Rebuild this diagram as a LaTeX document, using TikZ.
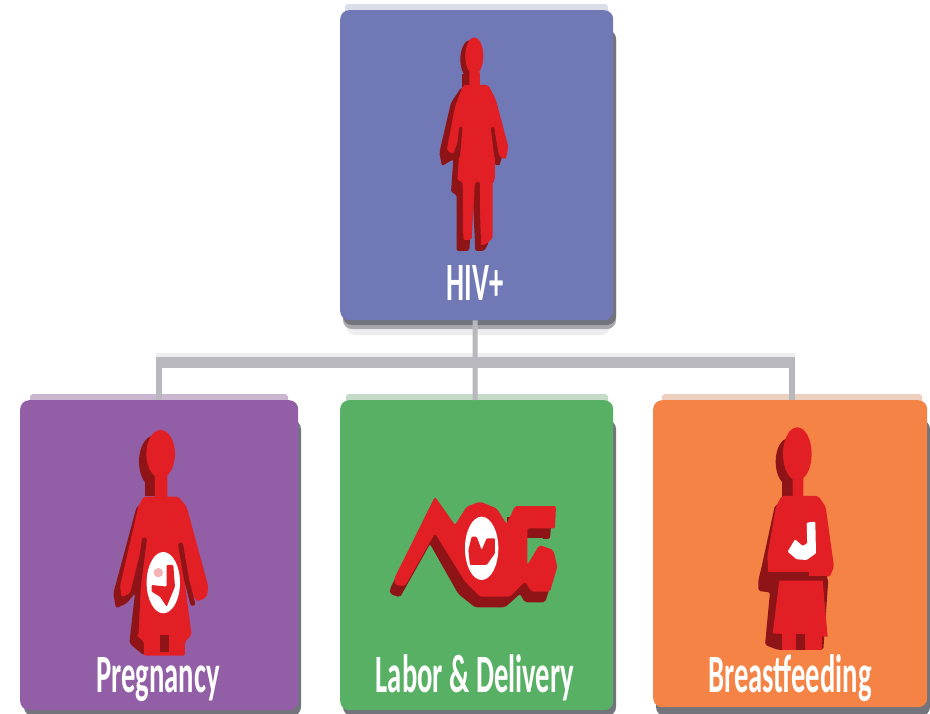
\documentclass[tikz,border=0pt]{standalone}
\usepackage{fontspec}
\setmainfont{Carlito}
\definecolor{cblue}{HTML}{7079B5}
\definecolor{cpurple}{HTML}{925FA6}
\definecolor{cgreen}{HTML}{58B065}
\definecolor{corange}{HTML}{F58345}
\definecolor{cred}{HTML}{E31F26}
\definecolor{cdark}{HTML}{8E1418}
\definecolor{cline}{HTML}{B8B8BE}
\definecolor{cshadow}{HTML}{74747C}
\definecolor{cshadowmid}{HTML}{A8A8AE}
\definecolor{cshadowlight}{HTML}{EEEEF0}
\tikzset{
  card/.style={draw=none,rectangle,rounded corners=9pt,inner sep=0pt,anchor=north west},
  busline/.style={draw=cline,line width=11pt},
  buslight/.style={draw=cshadowlight,line width=4pt},
  dropline/.style={draw=cline,line width=6pt},
  cardlabel/.style={text=white,inner sep=0pt,anchor=base,font=\bfseries\fontsize{54}{54}\selectfont,xscale=.53},
  redpart/.style={fill=cred,draw=none,rounded corners=2pt},
  darkpart/.style={fill=cdark,draw=none,rounded corners=2pt},
  crease/.style={draw=cdark,line width=3.5pt,line cap=round},
  plate/.style={fill=cshadow,draw=none,rounded corners=9pt},
  platemid/.style={fill=cshadowmid,draw=none,rounded corners=9pt},
  platelight/.style={fill=cshadowlight,draw=none,rounded corners=9pt},
  halo/.style={draw=none,rounded corners=3pt},
}
\begin{document}
\begin{tikzpicture}[x=1pt,y=-1pt]
\useasboundingbox (0,0) rectangle (930,713);
\fill[white] (0,0) rectangle (930,713);
% top strips and drop shadows
\fill[halo,fill=cblue!22!white!95!gray] (345,4) rectangle (608,30);
\fill[halo,fill=cpurple!42!white!90!gray] (30,394) rectangle (288,420);
\fill[halo,fill=cgreen!30!white!88!gray] (346,394) rectangle (608,420);
\fill[halo,fill=corange!30!white!88!gray] (662,394) rectangle (922,420);
\fill[platelight] (346,30) rectangle (610,335);
\fill[platemid] (343,30) rectangle (616,329);
\fill[plate] (343,30) rectangle (616,325);
\fill[plate] (24,420) rectangle (301,716);
\fill[plate] (343,420) rectangle (616,716);
\fill[plate] (656,420) rectangle (930,716);
% cards
\node[card,fill=cblue,minimum width=273pt,minimum height=310pt] (hiv) at (340,10) {};
\node[card,fill=cpurple,minimum width=278pt,minimum height=310pt] (preg) at (20,400) {};
\node[card,fill=cgreen,minimum width=273pt,minimum height=310pt] (labor) at (340,400) {};
\node[card,fill=corange,minimum width=274pt,minimum height=307pt] (breast) at (653,400) {};
% connectors
\coordinate (bus) at (475,362);
\coordinate (busL) at (156,362);
\coordinate (busR) at (795,362);
\draw[buslight] (busL) ++(0,-7) -- ++(639,0);
\draw[dropline,line width=5pt] ([xshift=-1.5pt]hiv.south) -- (bus);
\draw[dropline] (preg.north) -- (preg.north |- bus);
\draw[dropline,line width=5pt] (bus) -- ([xshift=-1.5pt]labor.north);
\draw[dropline] ([xshift=2pt]breast.north) -- ([xshift=2pt]breast.north |- bus);
\draw[busline] (busL) -- (busR);
% HIV+ figure
\begin{scope}[shift={(340,0)},x=.3333pt,y=-.3333pt]
  \begin{scope}[shift={(-12,8)}]
    \fill[cdark] (403,170) ellipse [x radius=30,y radius=58];
    \fill[cdark] (378,215) rectangle (410,258);
    \fill[darkpart] (375,255) -- (445,255) -- (470,320) -- (505,440) -- (490,490) -- (465,480) -- (465,540) -- (465,575) -- (458,720) -- (445,745) -- (418,745) -- (410,570) -- (400,745) -- (362,745) -- (362,575) -- (345,570) -- (352,470) -- (318,490) -- (310,450) -- (345,300) -- cycle;
  \end{scope}
  \fill[cred] (403,168) ellipse [x radius=27,y radius=56];
  \fill[redpart] (388,215) rectangle (420,262);
  \fill[redpart] (370,255) -- (445,255) -- (468,300) -- (505,440) -- (498,478) -- (478,470) -- (465,400) -- (465,540) -- (458,545) -- (458,715) -- (435,735) -- (420,735) -- (420,545) -- (405,545) -- (395,720) -- (370,720) -- (368,545) -- (352,542) -- (362,400) -- (340,462) -- (320,452) -- (345,320) -- cycle;
  \draw[crease] (362,385) -- (355,470);
  \draw[crease] (458,385) -- (468,470);
  \draw[crease] (412,560) -- (418,730);
\end{scope}
% Pregnancy figure
\begin{scope}[shift={(10,390)},x=.3333pt,y=-.3333pt]
  \fill[cdark] (432,215) ellipse [x radius=45,y radius=78];
  \fill[cdark] (405,270) rectangle (445,318);
  \fill[darkpart] (380,350) -- (310,610) -- (318,655) -- (350,640) -- (375,610) -- (358,760) -- (400,795) -- (480,795) -- (500,640) -- (400,340) -- cycle;
  \fill[cred] (452,192) ellipse [x radius=43,y radius=72];
  \fill[redpart] (435,250) rectangle (472,330);
  \fill[redpart] (400,320) -- (505,320) -- (530,350) -- (595,590) -- (590,622) -- (560,635) -- (535,590) -- (510,470) -- (545,735) -- (525,755) -- (525,797) -- (402,797) -- (402,755) -- (378,735) -- (395,470) -- (360,610) -- (335,622) -- (330,590) -- (385,350) -- cycle;
  \fill[cdark] (450,735) rectangle (478,785);
  \draw[crease,line width=5pt] (403,450) -- (385,590) -- (378,730);
  \draw[crease,line width=5pt] (512,465) -- (530,570) -- (548,640);
  \fill[white] (460,578) ellipse [x radius=50,y radius=92];
  \fill[cred,rounded corners=1pt] (470,525) -- (490,525) -- (495,590) -- (470,650) -- (450,620) -- (425,605) -- (425,585) -- (470,590) -- cycle;
  \fill[cred!35] (445,548) circle (14);
\end{scope}
% Labor figure
\begin{scope}[shift={(340,450)},x=.3333pt,y=-.3333pt]
  \begin{scope}[shift={(-15,32)}]
    \fill[darkpart] (165,385) -- (285,140) -- (345,225) -- (420,155) -- (500,220) -- (525,170) -- (650,170) -- (645,235) -- (560,235) -- (560,345) -- (600,285) -- (640,300) -- (655,350) -- (630,425) -- (570,425) -- (555,400) -- (510,440) -- (420,440) -- (370,400) -- (285,250) -- (195,410) -- (165,400) -- cycle;
  \end{scope}
  \fill[cdark] (500,200) rectangle (530,280);
  \fill[cdark] (560,235) rectangle (630,265);
  \fill[cgreen] (560,265) rectangle (610,282);
  \fill[redpart] (163,385) -- (285,140) -- (345,225) -- (380,170) -- (420,155) -- (470,175) -- (500,222) -- (525,168) -- (648,168) -- (645,235) -- (562,235) -- (562,345) -- (598,285) -- (640,300) -- (652,350) -- (630,425) -- (575,425) -- (555,395) -- (510,440) -- (420,440) -- (375,395) -- (285,250) -- (195,408) -- (165,405) -- cycle;
  \fill[white] (425,295) ellipse [x radius=50,y radius=95];
  \fill[cred,rounded corners=1pt] (395,260) -- (410,260) -- (425,300) -- (440,265) -- (465,265) -- (465,310) -- (440,345) -- (390,345) -- (385,300) -- cycle;
\end{scope}
% Breastfeeding figure
\begin{scope}[shift={(650,390)},x=.3333pt,y=-.3333pt]
  \fill[cdark] (415,215) ellipse [x radius=38,y radius=70];
  \fill[cdark] (395,270) rectangle (440,320);
  \fill[darkpart] (375,345) -- (335,530) -- (325,570) -- (325,603) -- (360,607) -- (345,765) -- (385,780) -- (520,780) -- (535,570) -- (400,340) -- cycle;
  \fill[cred] (442,192) ellipse [x radius=43,y radius=80];
  \fill[redpart] (428,250) rectangle (460,330);
  \fill[redpart] (395,318) -- (505,318) -- (527,350) -- (552,530) -- (540,560) -- (355,550) -- (352,500) -- (378,350) -- cycle;
  \fill[cdark] (355,545) rectangle (530,572);
  \fill[cred] (478,545) rectangle (540,558);
  \fill[cred] (388,572) -- (518,572) -- (533,740) -- (368,730) -- cycle;
  \fill[cred] (396,730) rectangle (515,780);
  \fill[cdark] (438,732) rectangle (466,780);
  \fill[white,rounded corners=1pt] (470,398) -- (496,395) -- (498,490) -- (470,510) -- (440,508) -- (413,485) -- (435,448) -- (458,468) -- (472,460) -- cycle;
\end{scope}
% labels
\node[cardlabel] (tHiv) at (475,300) {HIV+};
\node[cardlabel] (tPreg) at (158,692) {Pregnancy};
\node[cardlabel] (tLabor) at (475,692) {Labor \& Delivery};
\node[cardlabel] (tBreast) at (790,692) {Breastfeeding};
\end{tikzpicture}
\end{document}
